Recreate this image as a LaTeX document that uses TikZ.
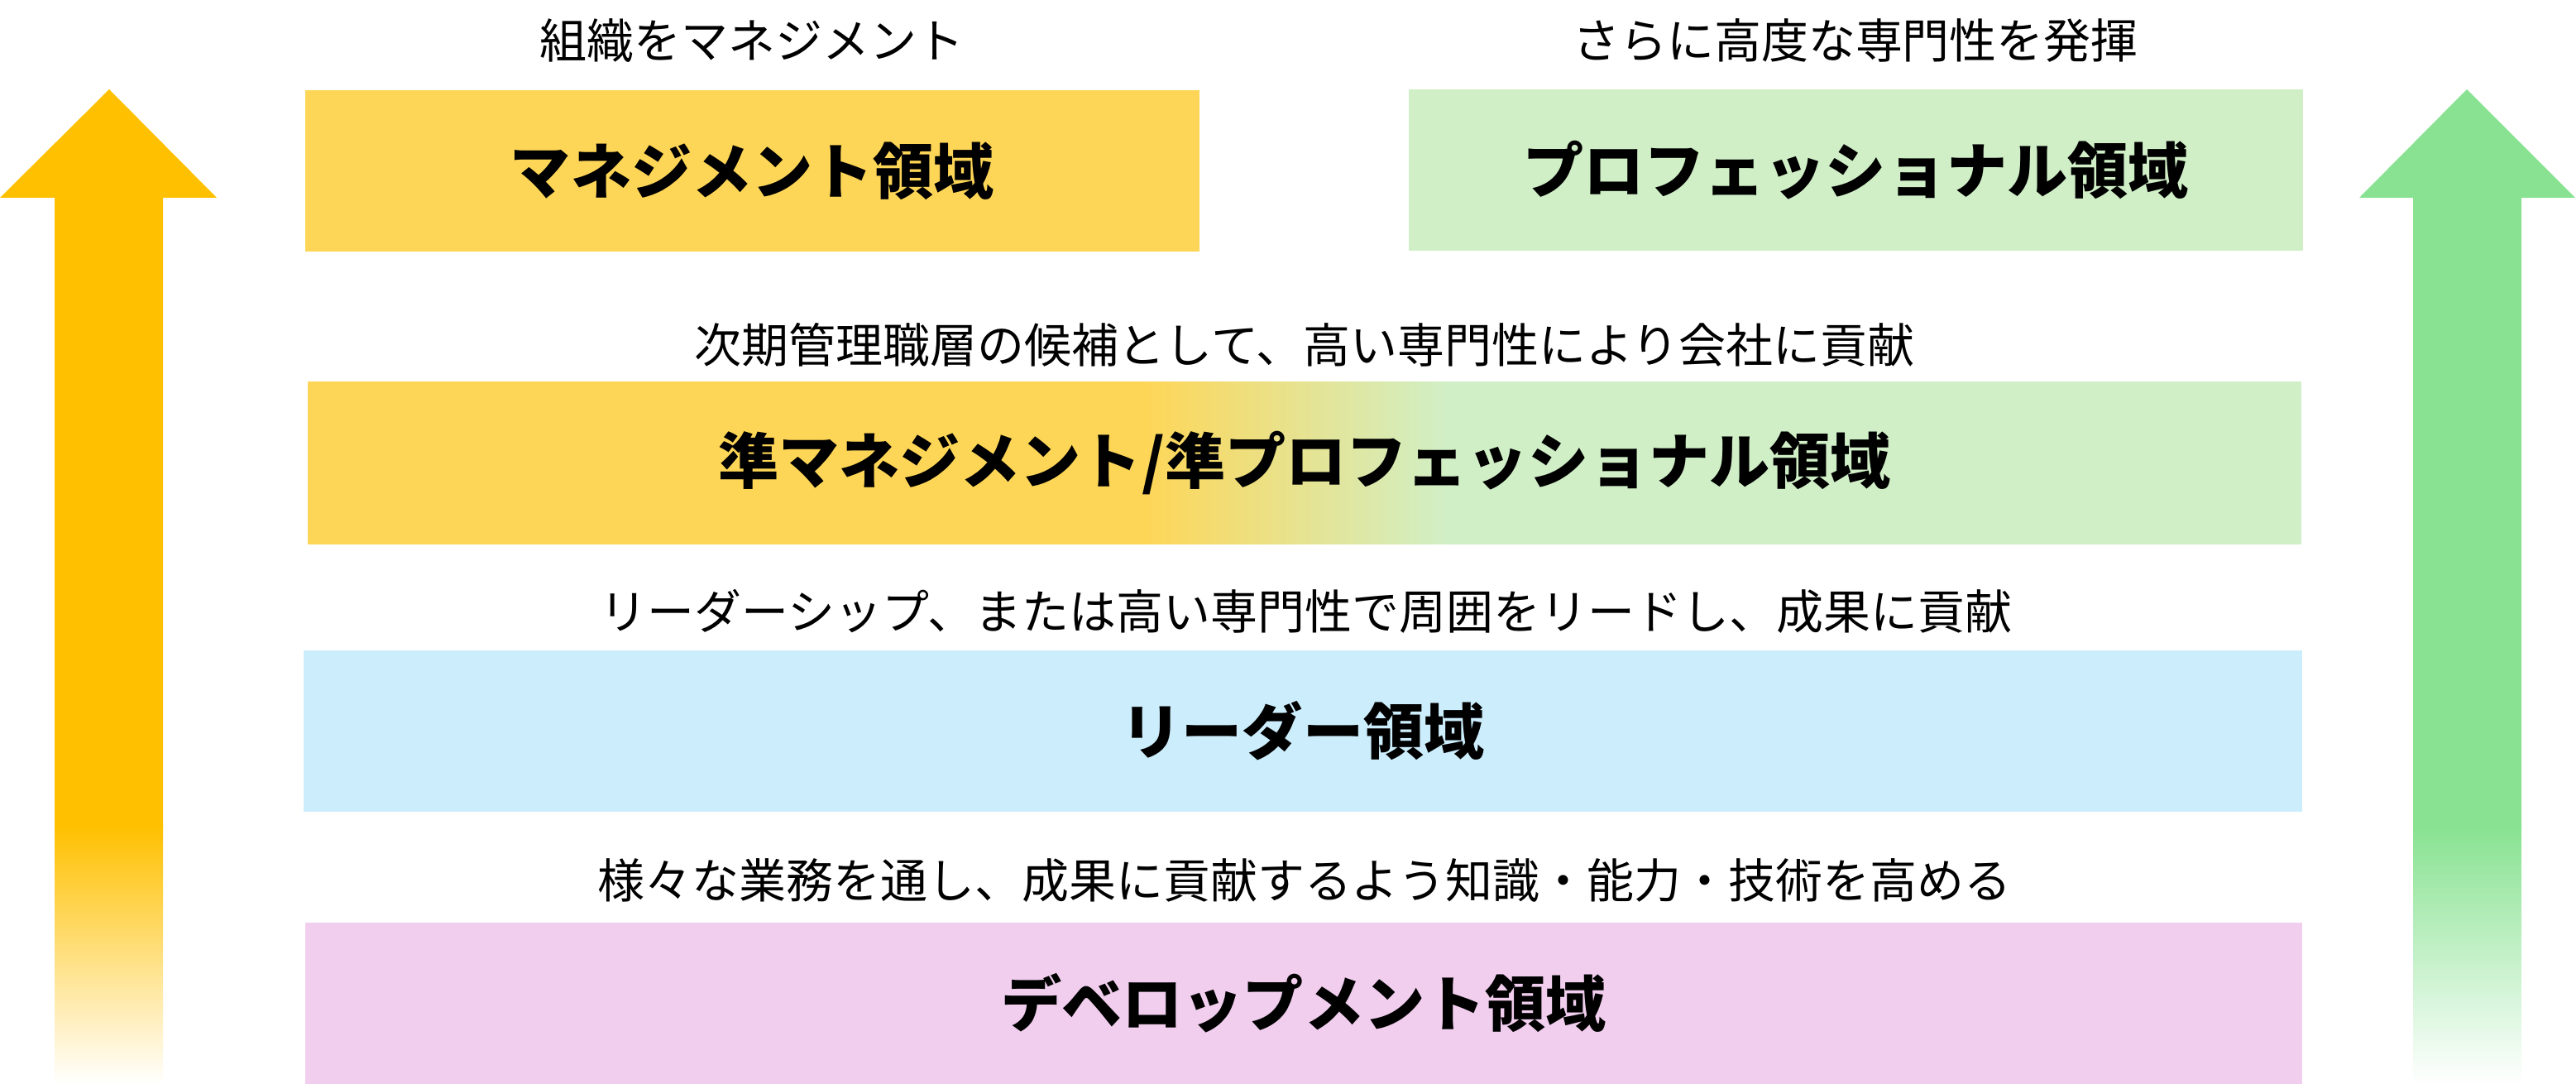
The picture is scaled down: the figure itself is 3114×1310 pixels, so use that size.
\documentclass[tikz,border=0pt]{standalone}
\usepackage{fontspec}
\setmainfont{Noto Sans CJK JP}
\usetikzlibrary{positioning}

\definecolor{mgmtfill}{HTML}{FED657}
\definecolor{proffill}{HTML}{D0EFC7}
\definecolor{leadfill}{HTML}{CCEDFB}
\definecolor{devfill}{HTML}{F1CEEE}
\definecolor{mgmtarrow}{HTML}{FFC000}
\definecolor{profarrow}{HTML}{88E291}

\newcommand\areatextstyle{\fontsize{20.8pt}{24pt}\selectfont\bfseries}
\newcommand\notetextstyle{\fontsize{16.2pt}{19pt}\selectfont}
\newcommand\arrowfade{998}
\pgfdeclarehorizontalshading{semishade}{100bp}{color(0bp)=(mgmtfill); color(25bp)=(mgmtfill); color(45.95bp)=(mgmtfill); color(53.65bp)=(proffill); color(75bp)=(proffill); color(100bp)=(proffill)}

\tikzset{
  areabox/.style={minimum height=1.95cm, inner sep=0pt, font=\areatextstyle},
  note/.style={inner sep=0pt, font=\notetextstyle},
}

\begin{document}
\begin{tikzpicture}[x=0.01cm, y=-0.01cm]
    \useasboundingbox (0,0) rectangle (3114,1310);
    % arrows on both sides
    \fill[mgmtarrow] (132,108) -- (262,239) -- (197,239) -- (197,1000) -- (66,1000) -- (66,239) -- (0,239) -- cycle;
    \shade[top color=mgmtarrow, bottom color=white] (66,\arrowfade) rectangle (197,1310);
    \fill[profarrow] (2982,108) -- (3113,239) -- (3048,239) -- (3048,1000) -- (2917,1000) -- (2917,239) -- (2852,239) -- cycle;
    \shade[top color=profarrow, bottom color=white] (2917,\arrowfade) rectangle (3048,1310);
    % areas
    \node[areabox, fill=mgmtfill, minimum width=10.81cm] (mgmt) at (909.5,206.5) {マネジメント領域};
    \node[areabox, fill=proffill, minimum width=10.81cm] (prof) at (2243.5,205.5) {プロフェッショナル領域};
    \node[areabox, shading=semishade, minimum width=24.08cm] (semi) at (1577,559.5) {準マネジメント/準プロフェッショナル領域};
    \node[areabox, fill=leadfill, minimum width=24.14cm] (lead) at (1575,883.5) {リーダー領域};
    \node[areabox, fill=devfill, minimum width=24.12cm] (dev) at (1576,1212.5) {デベロップメント領域};
    % notes
    \node[note] (mgmtnote) at (909,49) {組織をマネジメント};
    \node[note] (profnote) at (2243,49) {さらに高度な専門性を発揮};
    \node[note] (seminote) at (1577,417) {次期管理職層の候補として、高い専門性により会社に貢献};
    \node[note] (leadnote) at (1579,739) {リーダーシップ、または高い専門性で周囲をリードし、成果に貢献};
    \node[note] (devnote) at (1577,1064) {様々な業務を通し、成果に貢献するよう知識・能力・技術を高める};
\end{tikzpicture}
\end{document}
